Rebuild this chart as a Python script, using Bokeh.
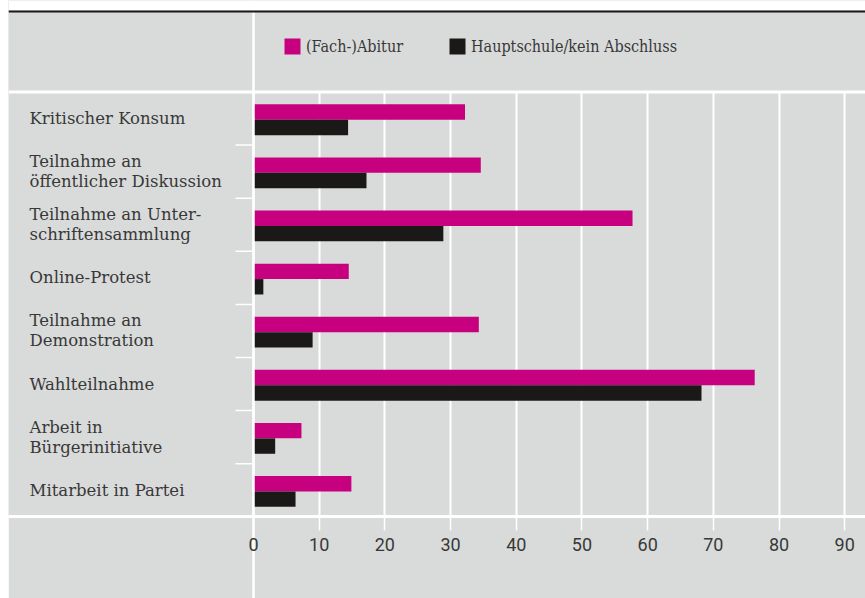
from bokeh.plotting import figure
from bokeh.layouts import row
from bokeh.models import (Range1d, FixedTicker, Span, BoxAnnotation, Legend,
                          LegendItem, ColumnDataSource, Spacer)
from bokeh.embed import file_html
from bokeh.resources import INLINE
from bokeh.core.properties import value

# ---------------- data ----------------
categories = [
    "Kritischer Konsum",
    "Teilnahme an\nöffentlicher Diskussion",
    "Teilnahme an Unter-\nschriftensammlung",
    "Online-Protest",
    "Teilnahme an\nDemonstration",
    "Wahlteilnahme",
    "Arbeit in\nBürgerinitiative",
    "Mitarbeit in Partei",
]
abitur = [32.2, 34.6, 57.7, 14.5, 34.3, 76.3, 7.3, 14.9]
hauptschule = [14.4, 17.2, 28.9, 1.5, 9.0, 68.2, 3.3, 6.4]
series_names = ["(Fach-)Abitur", "Hauptschule/kein Abschluss"]
x_ticks = [0, 10, 20, 30, 40, 50, 60, 70, 80, 90]

# ---------------- style ----------------
GRAY = "#d9dbda"
PINK = "#c6007e"
BLACK = "#1b1918"
TEXT = "#383838"
WHITE = "#ffffff"

LEFT_PAD = 8
W, H = 865 - LEFT_PAD, 598
FRAME_H = 516
PX_PER_UNIT = 6.569
ZERO_PX = 245.0
BAND_PX = 53.1
BAND_TOP_PX = 91.5  # canvas y of first category band top

x_start = -ZERO_PX / PX_PER_UNIT
x_end = (W - ZERO_PX) / PX_PER_UNIT
y_top = -BAND_TOP_PX / BAND_PX
y_bottom = (FRAME_H - BAND_TOP_PX) / BAND_PX

idx = list(range(len(categories)))
src = ColumnDataSource(dict(
    yp=[i + 0.378 for i in idx],
    yb=[i + 0.668 for i in idx],
    yl=[i + 0.5 for i in idx],
    abitur=abitur,
    hauptschule=hauptschule,
    cat=categories,
))

p = figure(width=W, height=H, output_backend="svg", toolbar_location=None,
           x_range=Range1d(x_start, x_end), y_range=Range1d(y_bottom, y_top),
           y_axis_location=None, min_border=0, min_border_bottom=H - FRAME_H)
p.background_fill_color = GRAY
p.border_fill_color = GRAY
p.outline_line_color = None

# grid
p.ygrid.visible = False
p.xgrid.ticker = FixedTicker(ticks=x_ticks)
p.xgrid.grid_line_color = WHITE
p.xgrid.grid_line_width = 2

# x axis
ax = p.xaxis[0]
ax.ticker = FixedTicker(ticks=x_ticks, minor_ticks=[0])
ax.axis_line_color = WHITE
ax.axis_line_width = 3
ax.major_tick_line_color = WHITE
ax.major_tick_line_width = 1.5
ax.major_tick_out = 14
ax.major_tick_in = 0
ax.minor_tick_line_color = WHITE
ax.minor_tick_line_width = 2.5
ax.minor_tick_out = H - FRAME_H
ax.minor_tick_in = 0
ax.major_label_text_font = "Roboto"
ax.major_label_text_font_size = "18px"
ax.major_label_text_color = TEXT
ax.major_label_standoff = 21 - (H - FRAME_H)

# bars
r1 = p.hbar(y="yp", left=0, right="abitur", height=0.29, source=src,
            fill_color=PINK, line_color=None)
r2 = p.hbar(y="yb", left=0, right="hauptschule", height=0.29, source=src,
            fill_color=BLACK, line_color=None)

# category labels
p.text(x=-34.1, y="yl", text="cat", source=src,
       text_font=value("DejaVu Serif"), text_font_size="16.5px",
       text_color=TEXT, text_align="left", text_baseline="middle",
       text_line_height=1.05)

# dividers in the label column
div_y = [i for i in idx[1:]]
p.segment(x0=[-2.74] * len(div_y), x1=[0] * len(div_y), y0=div_y, y1=div_y,
          line_color=WHITE, line_width=1.5)

# cover gridlines in legend area
p.add_layout(BoxAnnotation(bottom=0, fill_color=GRAY, fill_alpha=1,
                           line_color=None))
# separators
p.add_layout(Span(location=0, dimension="height", line_color=WHITE,
                  line_width=2.5))
p.add_layout(Span(location=0, dimension="width", line_color=WHITE,
                  line_width=3))
# top white strip and black rule
p.add_layout(BoxAnnotation(bottom=y_top + 10 / BAND_PX, fill_color=WHITE,
                           fill_alpha=1, line_color=None))
p.add_layout(BoxAnnotation(top=y_top + 10 / BAND_PX,
                           bottom=y_top + 12 / BAND_PX,
                           fill_color=BLACK, fill_alpha=1, line_color=None))

legend = Legend(items=[LegendItem(label=series_names[0], renderers=[r1]),
                       LegendItem(label=series_names[1], renderers=[r2])],
                orientation="horizontal", location=(274, FRAME_H - 36 - 20),
                padding=0, margin=0, spacing=8,
                glyph_width=20, glyph_height=20, label_height=20,
                label_width=133, label_standoff=4,
                background_fill_alpha=0, border_line_alpha=0,
                label_text_font="DejaVu Serif Condensed",
                label_text_font_size="16px", label_text_color=TEXT,
                label_text_baseline="middle")
p.add_layout(legend)

layout = row(Spacer(width=LEFT_PAD, height=H), p)
open("out.html", "w").write(file_html(layout, INLINE))
